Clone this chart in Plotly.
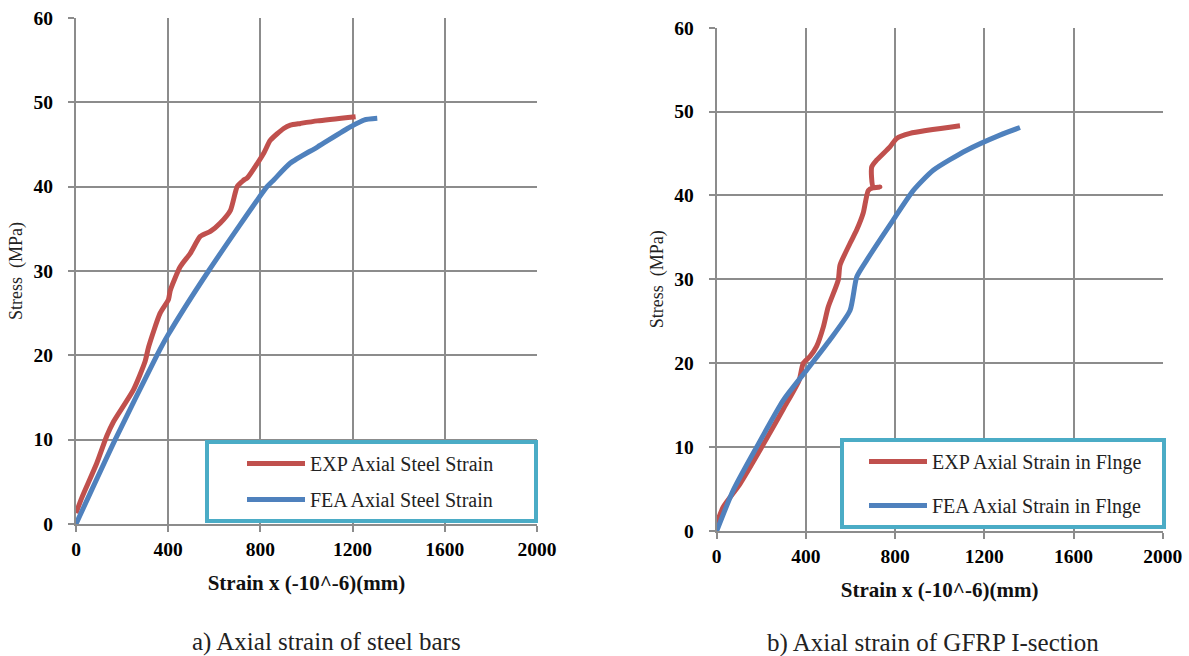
import plotly.graph_objects as go

# ---------------- data ----------------
# (a) Axial strain of steel bars
a_exp_x = [0, 25, 90, 133, 162, 249, 300, 315, 365, 401, 409, 452, 496, 539, 583, 626, 670, 699,
           720, 735, 727, 742, 815, 843, 901, 930, 974, 1047, 1213]
a_exp_y = [1.3, 3.1, 7.2, 10.4, 12.1, 15.9, 19.3, 21.0, 25.0, 26.6, 27.7, 30.5, 32.1, 34.1, 34.7, 35.7, 37.2, 40.0,
           40.6, 40.9, 40.8, 41.0, 44.0, 45.5, 46.9, 47.3, 47.5, 47.8, 48.3]
a_fea_x = [0, 170, 351, 399, 575, 829, 858, 930, 1047, 1191, 1249, 1307]
a_fea_y = [0, 10.0, 20.0, 22.4, 30.0, 40.0, 40.8, 42.8, 44.7, 47.1, 47.9, 48.1]

# (b) Axial strain of GFRP I-section
b_exp_x = [0, 30, 104, 202, 300, 370, 388, 418, 448, 478, 500, 545, 553, 598, 628, 657, 680,
           700, 732, 702, 695, 717, 777, 807, 867, 1091]
b_exp_y = [0.9, 2.9, 5.6, 10.0, 14.6, 18.0, 20.0, 20.8, 22.0, 24.3, 26.7, 29.9, 31.7, 34.3, 35.9, 37.9, 40.6,
           40.9, 41.0, 41.0, 43.4, 44.2, 45.8, 46.8, 47.4, 48.3]
b_fea_x = [0, 75, 179, 299, 404, 508, 598, 628, 673, 792, 882, 971, 1121, 1270, 1360]
b_fea_y = [0, 4.9, 10.0, 15.6, 19.2, 22.8, 26.3, 30.3, 32.3, 37.1, 40.6, 43.0, 45.4, 47.2, 48.1]

a_names = ["EXP Axial Steel Strain", "FEA Axial Steel Strain"]
b_names = ["EXP Axial Strain in Flnge", "FEA Axial Strain in Flnge"]
x_ticks = [0, 400, 800, 1200, 1600, 2000]
y_ticks = [0, 10, 20, 30, 40, 50, 60]
captions = ["a) Axial strain of steel bars", "b) Axial strain of GFRP I-section"]
x_title = "Strain x (-10^-6)(mm)"
y_title = "Stress\u00a0\u00a0(MPa)"

RED = "#C0504D"
BLUE = "#4F81BD"
GRID = "#8C8C8C"
SERIF = "Liberation Serif, Times New Roman, serif"
NB = "\u00a0"

W, H = 1189, 656

fig = go.Figure()
line_kw = dict(width=5, shape="spline", smoothing=0.6)
fig.add_trace(go.Scatter(x=a_exp_x, y=a_exp_y, mode="lines", name=a_names[0] + NB * 7,
                         line=dict(color=RED, **line_kw), legendgroup="a1",
                         xaxis="x", yaxis="y", legend="legend"))
fig.add_trace(go.Scatter(x=a_fea_x, y=a_fea_y, mode="lines", name=a_names[1] + NB * 7,
                         line=dict(color=BLUE, **line_kw), legendgroup="a2",
                         xaxis="x", yaxis="y", legend="legend"))
fig.add_trace(go.Scatter(x=b_exp_x, y=b_exp_y, mode="lines", name=b_names[0] + NB * 3,
                         line=dict(color=RED, **line_kw), legendgroup="b1",
                         xaxis="x2", yaxis="y2", legend="legend2"))
fig.add_trace(go.Scatter(x=b_fea_x, y=b_fea_y, mode="lines", name=b_names[1] + NB * 3,
                         line=dict(color=BLUE, **line_kw), legendgroup="b2",
                         xaxis="x2", yaxis="y2", legend="legend2"))


def px_x(p):
    return p / W


def px_y(p):
    return 1 - p / H


axis_common = dict(showgrid=True, gridcolor=GRID, gridwidth=2, showline=True, linecolor=GRID,
                   linewidth=2, mirror=False, ticks="outside", ticklen=6, tickcolor=GRID, tickwidth=2,
                   zeroline=False, automargin=False,
                   tickfont=dict(family=SERIF, size=19.5, color="#000000", weight="bold"))

xa = dict(axis_common, range=[0, 2000], tickvals=x_ticks, ticklabelstandoff=1,
          title=dict(text=x_title, font=dict(family=SERIF, size=21, color="#111111", weight="bold"),
                     standoff=16))
ya = dict(axis_common, range=[0, 60], tickvals=y_ticks, ticklabelstandoff=11,
          title=dict(text=y_title, font=dict(family=SERIF, size=18, color="#222222"), standoff=6))

leg_common = dict(xanchor="left", yanchor="top", bordercolor="#4BACC6", borderwidth=4, bgcolor="white",
                  font=dict(family=SERIF, size=20, color="#222222"), itemwidth=58)

fig.update_layout(
    width=W, height=H,
    margin=dict(l=0, r=0, t=0, b=0, autoexpand=False),
    paper_bgcolor="white", plot_bgcolor="white",
    xaxis=dict(xa, domain=[px_x(76), px_x(537)], anchor="y"),
    yaxis=dict(ya, domain=[px_y(524), px_y(18)], anchor="x"),
    xaxis2=dict(xa, domain=[px_x(716.7), px_x(1162.7)], anchor="y2"),
    yaxis2=dict(ya, domain=[px_y(531), px_y(27.7)], anchor="x2"),
    legend=dict(leg_common, x=px_x(205), y=px_y(440), tracegroupgap=7, indentation=33),
    legend2=dict(leg_common, x=px_x(840), y=px_y(438), tracegroupgap=15, indentation=20),
    annotations=[
        dict(text=captions[0], x=px_x(326), y=px_y(642), xref="paper", yref="paper",
             xanchor="center", yanchor="middle",
             showarrow=False, font=dict(family=SERIF, size=25, color="#222222")),
        dict(text=captions[1], x=px_x(933), y=px_y(643), xref="paper", yref="paper",
             xanchor="center", yanchor="middle",
             showarrow=False, font=dict(family=SERIF, size=25, color="#222222")),
    ],
)

fig.write_html("out.html")
